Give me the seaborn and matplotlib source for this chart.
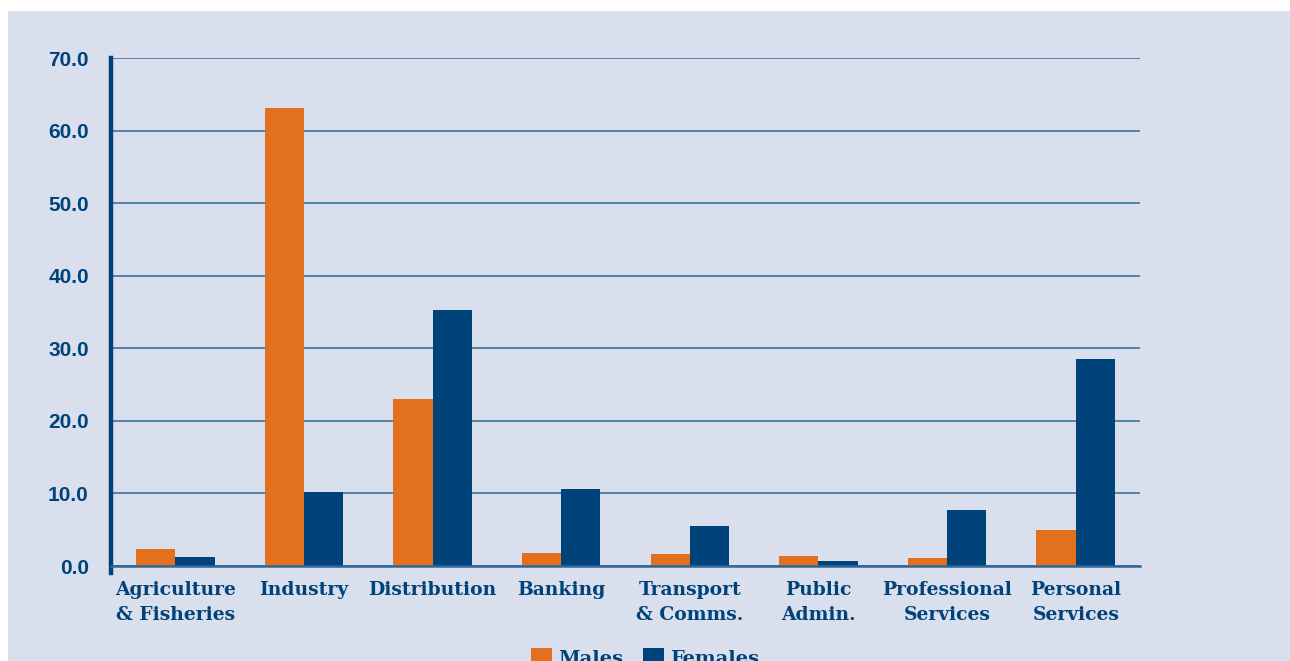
import pandas as pd
import matplotlib.pyplot as plt
import seaborn as sns
from matplotlib.patches import Rectangle
from matplotlib.ticker import FixedLocator, FormatStrFormatter

# Data
sectors = ['Agriculture\n& Fisheries', 'Industry', 'Distribution', 'Banking',
           'Transport\n& Comms.', 'Public\nAdmin.', 'Professional\nServices',
           'Personal\nServices']
males = [2.4, 63.1, 23.0, 1.8, 1.6, 1.4, 1.1, 5.0]
females = [1.3, 10.2, 35.3, 10.6, 5.5, 0.7, 7.7, 28.5]
y_ticks = [0, 10, 20, 30, 40, 50, 60, 70]

# Colours
orange = '#E2701E'
navy = '#00427A'
grid_blue = '#2F6699'
panel = '#D9DFEC'

df = pd.DataFrame({'Sector': sectors * 2,
                   'Value': males + females,
                   'Sex': ['Males'] * len(sectors) + ['Females'] * len(sectors)})

sns.set_style('white')
plt.rcParams['font.family'] = ['Liberation Sans', 'DejaVu Sans']

fig = plt.figure(figsize=(12.9, 6.61), dpi=100, facecolor='white')

# light panel behind the chart
fig.patches.append(Rectangle((8 / 1290, 0), 1, (661 - 11) / 661,
                             transform=fig.transFigure, facecolor=panel,
                             edgecolor='none', zorder=-10))

ax = fig.add_axes([111 / 1290, (661 - 566) / 661, 1029 / 1290, 508 / 661])
ax.set_facecolor('none')

sns.barplot(data=df, x='Sector', y='Value', hue='Sex', order=sectors,
            hue_order=['Males', 'Females'], palette=[orange, navy],
            width=0.61, saturation=1, linewidth=0, ax=ax, legend=True)

ax.set_xlim(-0.5, len(sectors) - 0.5)
ax.set_ylim(0, 70)
ax.set_xlabel('')
ax.set_ylabel('')

# y axis: gridlines and bold labels
ax.yaxis.set_major_locator(FixedLocator(y_ticks))
ax.yaxis.set_major_formatter(FormatStrFormatter('%.1f'))
ax.grid(axis='y', color=grid_blue, linewidth=1.1, zorder=0)
ax.set_axisbelow(True)
ax.tick_params(axis='y', length=8, width=1.1, color=grid_blue, pad=8,
               labelsize=15, labelcolor=navy)
for lab in ax.get_yticklabels():
    lab.set_fontweight('bold')

# x axis: category labels, ticks at group boundaries
ax.set_xticks(range(len(sectors)))
ax.set_xticklabels(sectors, family=['DejaVu Serif'], fontweight='bold',
                   fontsize=13.5, color=navy, linespacing=1.5)
ax.tick_params(axis='x', length=0, pad=11)
ax.set_xticks([i - 0.5 for i in range(len(sectors) + 1)], minor=True)
ax.tick_params(axis='x', which='minor', length=7, width=1.6, color=grid_blue,
               direction='out')

for side in ['top', 'right']:
    ax.spines[side].set_visible(False)
ax.spines['left'].set_color(navy)
ax.spines['left'].set_linewidth(3.2)
ax.spines['left'].set_bounds(-1, 70)
ax.spines['bottom'].set_color(grid_blue)
ax.spines['bottom'].set_linewidth(1.8)

# legend at the bottom, close to the lower edge as in the original
handles, labels = ax.get_legend_handles_labels()
ax.legend_.remove()
fig.legend(handles, labels, loc='upper center',
           bbox_to_anchor=(645 / 1290, 23 / 661), ncol=2, frameon=False,
           prop={'family': 'DejaVu Serif', 'weight': 'bold', 'size': 14},
           labelcolor=navy, handlelength=1.1, handleheight=1.1,
           handletextpad=0.3, columnspacing=1.0, borderpad=0)

fig.savefig('out.png', dpi=100, facecolor='white')
